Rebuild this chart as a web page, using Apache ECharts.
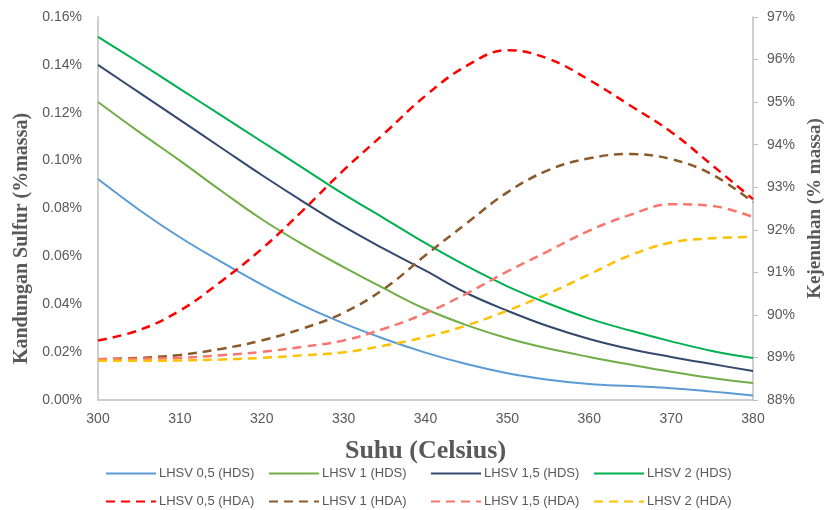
<!DOCTYPE html>
<html>
<head>
<meta charset="utf-8">
<script src="https://cdn.jsdelivr.net/npm/echarts@6/dist/echarts.min.js"></script>
<style>
  html, body { margin: 0; padding: 0; background: #fff; }
  #chart { width: 824px; height: 510px; }
</style>
</head>
<body>
<div id="chart"></div>
<script>
// suhu (Celsius)
const temps = [300, 305, 310, 315, 320, 325, 330, 335, 340, 345, 350, 355, 360, 365, 370, 375, 380];

// kandungan sulfur (% massa) - sumbu kiri
const hds05 = [0.0923, 0.0795, 0.0680, 0.0578, 0.0482, 0.0395, 0.0320, 0.0255, 0.0198, 0.0150, 0.0112, 0.0085, 0.0067, 0.0058, 0.0049, 0.0035, 0.0019];
const hds1 = [0.1245, 0.112, 0.100, 0.0875, 0.0755, 0.065, 0.0555, 0.0465, 0.0380, 0.0313, 0.0258, 0.0215, 0.0180, 0.0148, 0.0118, 0.0092, 0.0071];
const hds15 = [0.140, 0.1285, 0.117, 0.1055, 0.094, 0.083, 0.0725, 0.063, 0.054, 0.0447, 0.0373, 0.0308, 0.0255, 0.0213, 0.0180, 0.0150, 0.0121];
const hds2 = [0.1517, 0.141, 0.130, 0.119, 0.108, 0.097, 0.086, 0.0758, 0.0655, 0.0560, 0.0475, 0.0403, 0.0340, 0.0290, 0.0245, 0.0205, 0.0175];

// kejenuhan (% massa) - sumbu kanan
const hda05 = [89.40, 89.64, 90.10, 90.78, 91.55, 92.45, 93.40, 94.27, 95.15, 95.85, 96.22, 96.02, 95.52, 94.92, 94.30, 93.52, 92.72];
const hda1 = [88.96, 88.99, 89.06, 89.20, 89.40, 89.68, 90.05, 90.62, 91.40, 92.15, 92.88, 93.40, 93.68, 93.78, 93.66, 93.30, 92.65];
const hda15 = [88.96, 88.97, 88.99, 89.05, 89.13, 89.25, 89.40, 89.68, 90.04, 90.50, 91.02, 91.50, 91.98, 92.35, 92.60, 92.56, 92.30];
const hda2 = [88.92, 88.92, 88.93, 88.95, 88.99, 89.05, 89.12, 89.28, 89.48, 89.75, 90.10, 90.50, 90.95, 91.40, 91.70, 91.80, 91.83];

const names = [
  "LHSV 0,5 (HDS)", "LHSV 1 (HDS)", "LHSV 1,5 (HDS)", "LHSV 2 (HDS)",
  "LHSV 0,5 (HDA)", "LHSV 1 (HDA)", "LHSV 1,5 (HDA)", "LHSV 2 (HDA)",
];
const colors = ["#5b9bd5", "#70ad47", "#34486e", "#00b050", "#ff0000", "#8b5a2b", "#f8766d", "#ffc000"];
const values = [hds05, hds1, hds15, hds2, hda05, hda1, hda15, hda2];

const pair = (arr) => temps.map((t, i) => [t, arr[i]]);

const series = values.map((arr, i) => {
  const dashed = i >= 4;
  return {
    name: names[i],
    type: "line",
    yAxisIndex: dashed ? 1 : 0,
    smooth: 0.4,
    symbol: "none",
    color: colors[i],
    lineStyle: {
      width: dashed ? 2.5 : 2,
      type: dashed ? [9, 6] : "solid",
      color: colors[i],
    },
    data: pair(arr),
  };
});

// legend dua baris, empat kolom
const legendLeft = [105, 268, 430, 593];
const legends = names.map((n, i) => ({
  data: [n],
  left: legendLeft[i % 4],
  top: i < 4 ? 467 : 495,
  padding: 0,
  itemWidth: 50,
  itemHeight: 14,
  itemGap: 4,
  itemStyle: { opacity: 0 },
  textStyle: { fontFamily: "Liberation Sans", fontSize: 13, color: "#595959", padding: [0, 0, 0, -2] },
}));

const labelStyle = { fontFamily: "Liberation Sans", fontSize: 14, color: "#595959" };
const nameStyle = { fontFamily: "Liberation Serif", fontWeight: "bold", color: "#595959" };

const chart = echarts.init(document.getElementById("chart"));
const option = {
  animation: false,
  backgroundColor: "#fff",
  legend: legends,
  grid: { left: 98, right: 71, top: 17, bottom: 110, outerBoundsMode: "none", containLabel: false },
  xAxis: {
    type: "value",
    min: 300,
    max: 380,
    interval: 10,
    name: "Suhu (Celsius)",
    nameLocation: "middle",
    nameGap: 38,
    nameTextStyle: Object.assign({ fontSize: 26 }, nameStyle),
    axisLine: { show: true, lineStyle: { color: "#bfbfbf", width: 1.5 } },
    axisTick: { show: false },
    splitLine: { show: false },
    axisLabel: Object.assign({ margin: 12 }, labelStyle),
  },
  yAxis: [
    {
      type: "value",
      min: 0,
      max: 0.16,
      interval: 0.02,
      position: "left",
      name: "Kandungan Sulfur (%massa)",
      nameLocation: "middle",
      nameRotate: 90,
      nameGap: 66,
      nameTextStyle: Object.assign({ fontSize: 20, padding: [0, 60, 0, 0] }, nameStyle),
      axisLine: { show: true, lineStyle: { color: "#bfbfbf", width: 1.5 } },
      axisTick: { show: false },
      splitLine: { show: false },
      axisLabel: Object.assign({ margin: 16, formatter: (v) => v.toFixed(2) + "%" }, labelStyle),
    },
    {
      type: "value",
      min: 88,
      max: 97,
      interval: 1,
      position: "right",
      name: "Kejenuhan (% massa)",
      nameLocation: "middle",
      nameRotate: 90,
      nameGap: 53,
      nameTextStyle: Object.assign({ fontSize: 19 }, nameStyle),
      axisLine: { show: true, lineStyle: { color: "#bfbfbf", width: 1.5 } },
      axisTick: { show: true, inside: false, length: 5, lineStyle: { color: "#bfbfbf" } },
      splitLine: { show: false },
      axisLabel: Object.assign({ margin: 14, formatter: (v) => v + "%" }, labelStyle),
    },
  ],
  series: series,
};
chart.setOption(option);
</script>
</body>
</html>
